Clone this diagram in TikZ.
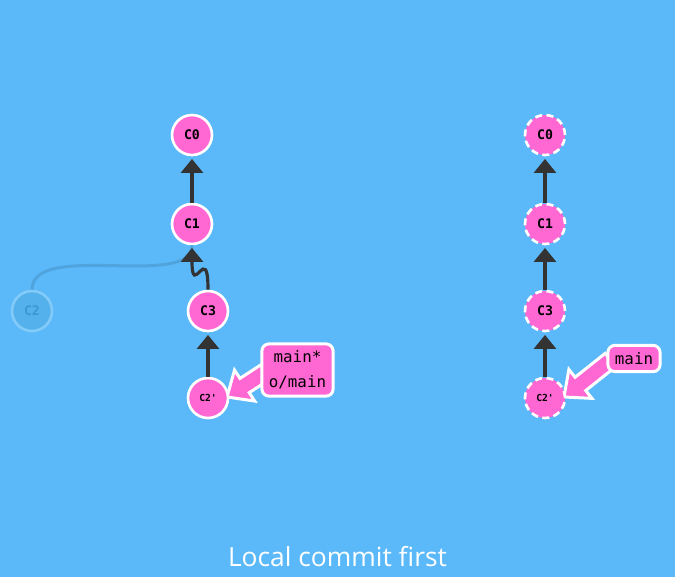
\documentclass[tikz,border=0pt]{standalone}
\usepackage{fontspec}
\setmainfont{Open Sans}
\setmonofont{DejaVu Sans Mono}
\usetikzlibrary{arrows.meta,calc}

\definecolor{bgblue}{RGB}{91,185,250}
\definecolor{commitpink}{RGB}{255,104,210}
\definecolor{linkgray}{RGB}{51,51,51}
\definecolor{ghostfill}{RGB}{84,177,236}
\definecolor{ghostedge}{RGB}{130,202,248}
\definecolor{ghosttext}{RGB}{62,150,210}
\definecolor{ghostline}{RGB}{80,164,222}

\pgfdeclarelayer{bg}
\pgfdeclarelayer{mid}
\pgfsetlayers{bg,mid,main}

\tikzset{
	commit/.style={circle,draw=white,line width=1.5pt,fill=commitpink,minimum size=0.8cm,inner sep=0pt,font=\ttfamily\bfseries\fontsize{7.5}{9}\selectfont},
	remote/.style={commit,dash pattern=on 4pt off 2.5pt},
	ghost/.style={commit,draw=ghostedge,fill=ghostfill,text=ghosttext},
	tinyname/.style={font=\ttfamily\bfseries\fontsize{5.5}{7}\selectfont},
	parent/.style={-{Triangle[width=0.44cm,length=0.28cm]},line width=1.8pt,draw=linkgray,shorten >=1.5pt},
	oldparent/.style={line width=1.7pt,draw=ghostline},
	branch/.style={draw=white,line width=1.7pt,fill=commitpink,rounded corners=4pt,inner sep=4pt,align=center,font=\ttfamily\fontsize{9}{14}\selectfont},
	branchptr/.style={draw=white,line width=1.7pt,fill=commitpink,line join=miter},
}

\begin{document}
\begin{tikzpicture}
	\begin{pgfonlayer}{bg}
		\fill [bgblue] (0,0) rectangle (13.5,-11.54);
	\end{pgfonlayer}

	% left: local repo
	\node [commit] (c0L) at (3.84,-2.70) {C0};
	\node [commit] (c1L) at (3.84,-4.48) {C1};
	\node [commit] (c3L) at (4.16,-6.22) {C3};
	\node [commit,tinyname] (c2pL) at (4.16,-7.96) {C2'};
	\node [ghost] (c2L) at (0.64,-6.22) {C2};
	\node [branch] (lblL) at (5.95,-7.40) {main*\\o/main};

	\draw [oldparent] (c2L.north) .. controls (0.64,-4.8) and (3.84,-5.8) .. (c1L.south);
	\draw [parent] (c1L) -- (c0L);
	\draw [parent] (c3L.north) .. controls (4.16,-4.8) and (3.84,-6.0) .. (c1L.south);
	\draw [parent] (c2pL) -- (c3L);

	\coordinate (sL) at ($(lblL.west)+(0.1,-0.04)$);
	\coordinate (tL) at ($(c2pL)+(0.38,0.02)$);
	\coordinate (hL) at ($(tL)!0.42cm!(sL)$);
	\begin{pgfonlayer}{mid}
		\draw [branchptr] ($(sL)!0.17cm!90:(tL)$) -- ($(hL)!0.17cm!90:(tL)$) -- ($(hL)!0.37cm!90:(tL)$) -- (tL)
			-- ($(hL)!0.37cm!-90:(tL)$) -- ($(hL)!0.17cm!-90:(tL)$) -- ($(sL)!0.17cm!-90:(tL)$) -- cycle;
	\end{pgfonlayer}

	% right: remote repo
	\node [remote] (c0R) at (10.9,-2.70) {C0};
	\node [remote] (c1R) at (10.9,-4.48) {C1};
	\node [remote] (c3R) at (10.9,-6.22) {C3};
	\node [remote,tinyname] (c2pR) at (10.9,-7.96) {C2'};
	\node [branch] (lblR) at (12.68,-7.17) {main};

	\draw [parent] (c1R) -- (c0R);
	\draw [parent] (c3R) -- (c1R);
	\draw [parent] (c2pR) -- (c3R);

	\coordinate (sR) at ($(lblR.west)+(0.08,-0.03)$);
	\coordinate (tR) at ($(c2pR)+(0.38,0.02)$);
	\coordinate (hR) at ($(tR)!0.42cm!(sR)$);
	\begin{pgfonlayer}{mid}
		\draw [branchptr] ($(sR)!0.17cm!90:(tR)$) -- ($(hR)!0.17cm!90:(tR)$) -- ($(hR)!0.37cm!90:(tR)$) -- (tR)
			-- ($(hR)!0.37cm!-90:(tR)$) -- ($(hR)!0.17cm!-90:(tR)$) -- ($(sR)!0.17cm!-90:(tR)$) -- cycle;
	\end{pgfonlayer}

	\node [text=white,font=\fontsize{15}{18}\selectfont] (title) at (6.75,-11.14) {Local commit first};
\end{tikzpicture}
\end{document}
